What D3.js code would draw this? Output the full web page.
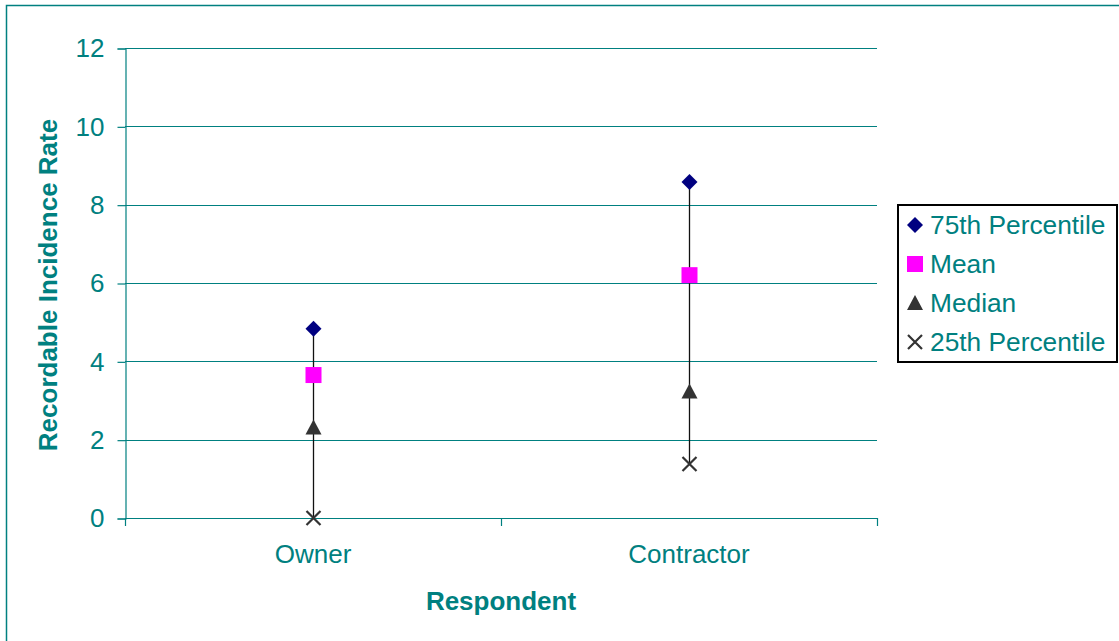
<!DOCTYPE html>
<html>
<head>
<meta charset="utf-8">
<script src="https://cdn.jsdelivr.net/npm/d3@7/dist/d3.min.js"></script>
<style>
  html, body { margin: 0; padding: 0; background: #fff; }
  svg { display: block; font-family: "Liberation Sans", Arial, sans-serif; }
</style>
</head>
<body>
<svg id="chart" width="1119" height="641"></svg>
<script>
// Respondent groups and the incidence-rate statistics for each
const categories = ["Owner", "Contractor"];
const p75 = [4.83, 8.58];
const mean = [3.65, 6.2];
const median = [2.31, 3.23];
const p25 = [0.0, 1.38];
const yTicks = [0, 2, 4, 6, 8, 10, 12];
const seriesNames = ["75th Percentile", "Mean", "Median", "25th Percentile"];

const teal = "#008080";
const svg = d3.select("#chart");

// outer chart-area frame (runs off the right and bottom edges)
svg.append("rect")
  .attr("x", 6.5).attr("y", 5.5)
  .attr("width", 1300).attr("height", 800)
  .attr("fill", "none").attr("stroke", teal).attr("stroke-width", 1.5);

const plot = { left: 125, right: 877, top: 48, bottom: 518 };

const x = d3.scaleBand().domain(categories).range([plot.left, plot.right]);
const y = d3.scaleLinear().domain([0, 12]).range([plot.bottom, plot.top]);

// horizontal gridlines
svg.append("g")
  .selectAll("line")
  .data(yTicks)
  .join("line")
  .attr("x1", plot.left).attr("x2", plot.right)
  .attr("y1", d => Math.round(y(d)) + 0.5).attr("y2", d => Math.round(y(d)) + 0.5)
  .attr("stroke", teal).attr("stroke-width", 1.2);

// y axis
const yAxis = svg.append("g")
  .attr("transform", `translate(${plot.left + 0.5},0.5)`)
  .call(d3.axisLeft(y).tickValues(yTicks).tickSize(8).tickPadding(13));
yAxis.select(".domain").attr("stroke", teal).attr("stroke-width", 1.2);
yAxis.selectAll(".tick line").attr("stroke", teal).attr("stroke-width", 1.2);
yAxis.selectAll(".tick text")
  .attr("fill", teal).attr("font-size", 26)
  .attr("font-family", "Liberation Sans, Arial, sans-serif");

// x axis with category boundary ticks
const xAxis = svg.append("g")
  .attr("transform", `translate(0,${plot.bottom + 0.5})`)
  .call(d3.axisBottom(x).tickSize(0).tickPadding(26));
xAxis.select(".domain").remove();
xAxis.selectAll(".tick text")
  .attr("fill", teal).attr("font-size", 26)
  .attr("font-family", "Liberation Sans, Arial, sans-serif");
const bounds = [plot.left, ...categories.map(c => x(c) + x.bandwidth())];
svg.append("g").selectAll("line")
  .data(bounds)
  .join("line")
  .attr("x1", d => Math.round(d) + 0.5).attr("x2", d => Math.round(d) + 0.5)
  .attr("y1", plot.bottom).attr("y2", plot.bottom + 8)
  .attr("stroke", teal).attr("stroke-width", 1.2);

// axis titles
svg.append("text")
  .attr("x", (plot.left + plot.right) / 2).attr("y", 610)
  .attr("text-anchor", "middle")
  .attr("font-size", 26).attr("font-weight", "bold").attr("fill", teal)
  .text("Respondent");
svg.append("text")
  .attr("transform", `translate(57,${(plot.top + plot.bottom) / 2 + 2}) rotate(-90)`)
  .attr("text-anchor", "middle")
  .attr("font-size", 26).attr("font-weight", "bold").attr("fill", teal)
  .text("Recordable Incidence Rate");

// high-low lines joining 75th and 25th percentile
const cx = c => Math.round(x(c) + x.bandwidth() / 2) + 0.5;
svg.append("g").selectAll("line")
  .data(categories)
  .join("line")
  .attr("x1", cx).attr("x2", cx)
  .attr("y1", (c, i) => y(p75[i])).attr("y2", (c, i) => y(p25[i]))
  .attr("stroke", "#111").attr("stroke-width", 1.3);

// marker shapes
const markers = [
  { values: p75, draw: (g) => g.append("path").attr("d", "M0,-8L8,0L0,8L-8,0Z").attr("fill", "#000080") },
  { values: mean, draw: (g) => g.append("rect").attr("x", -8).attr("y", -8).attr("width", 16).attr("height", 16).attr("fill", "#ff00ff") },
  { values: median, draw: (g) => g.append("path").attr("d", "M0,-8L8,7L-8,7Z").attr("fill", "#333333") },
  { values: p25, draw: (g) => g.append("path").attr("d", "M-7,-7L7,7M7,-7L-7,7").attr("stroke", "#333333").attr("stroke-width", 2.2).attr("fill", "none") }
];

markers.forEach(m => {
  categories.forEach((c, i) => {
    const g = svg.append("g").attr("transform", `translate(${cx(c)},${y(m.values[i])})`);
    m.draw(g);
  });
});

// legend
const legend = svg.append("g");
legend.append("rect")
  .attr("x", 898).attr("y", 205).attr("width", 219).attr("height", 157)
  .attr("fill", "#fff").attr("stroke", "#000").attr("stroke-width", 2);
seriesNames.forEach((name, i) => {
  const yy = 225 + i * 39;
  const g = legend.append("g").attr("transform", `translate(915,${yy})`);
  markers[i].draw(g);
  legend.append("text")
    .attr("x", 930).attr("y", yy + 9)
    .attr("font-size", 26.3).attr("fill", teal)
    .text(name);
});
</script>
</body>
</html>
